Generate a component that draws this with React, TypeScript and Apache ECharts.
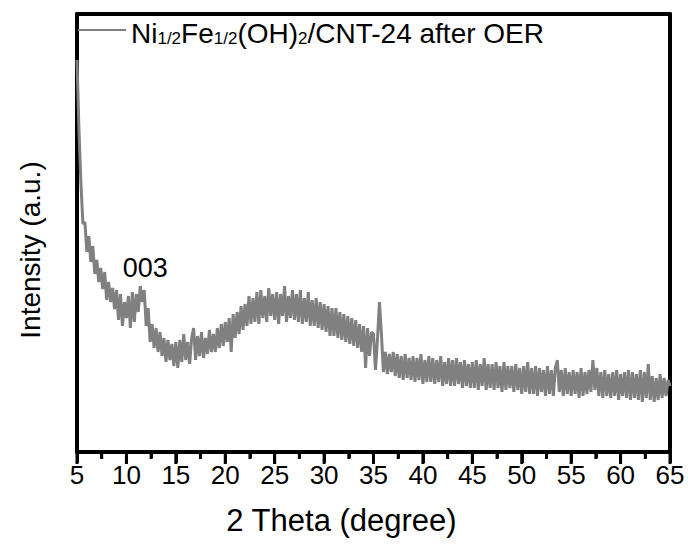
import React, { useEffect, useRef } from "react";
import * as echarts from "echarts";

// 2θ grid: start and step of the scan (degrees)
const scanStart = 5.0;
const scanStep = 0.2;

// Intensity (a.u.), 5.0° … 65.0° every 0.2°
const intensity: number[] = [
  392, 322, 268, 228, 230, 200, 216, 190, 206, 178,
  192, 170, 184, 163, 180, 152, 170, 150, 164, 143,
  162, 132, 158, 126, 150, 134, 156, 124, 160, 130,
  158, 140, 166, 150, 162, 126, 144, 110, 128, 104,
  124, 100, 120, 96, 114, 90, 112, 92, 108, 86,
  110, 84, 112, 90, 118, 92, 110, 88, 114, 124,
  92, 116, 96, 120, 94, 114, 98, 122, 100, 118,
  100, 124, 104, 128, 106, 130, 110, 134, 100, 138,
  114, 140, 118, 146, 122, 148, 126, 156, 128, 154,
  130, 160, 128, 162, 134, 156, 130, 164, 136, 158,
  132, 160, 128, 158, 136, 166, 130, 156, 134, 162,
  132, 158, 130, 162, 128, 154, 130, 160, 126, 152,
  126, 154, 124, 150, 122, 148, 120, 146, 116, 144,
  116, 144, 114, 140, 112, 138, 110, 136, 108, 134,
  106, 132, 104, 128, 100, 126, 84, 124, 96, 120,
  118, 82, 112, 150, 118, 80, 100, 78, 98, 80,
  100, 76, 98, 74, 96, 72, 98, 74, 94, 72,
  96, 70, 94, 72, 98, 68, 92, 70, 96, 70,
  94, 68, 92, 70, 96, 66, 90, 68, 94, 66,
  92, 66, 94, 68, 90, 64, 92, 66, 88, 64,
  90, 64, 92, 62, 88, 66, 94, 62, 88, 64,
  88, 62, 90, 64, 86, 60, 90, 62, 86, 64,
  86, 60, 88, 62, 84, 58, 86, 60, 90, 58,
  84, 58, 86, 56, 84, 60, 82, 56, 86, 58,
  82, 56, 84, 92, 60, 82, 56, 84, 58, 80,
  56, 82, 58, 80, 54, 84, 56, 80, 58, 82,
  60, 92, 62, 84, 56, 80, 54, 82, 56, 78,
  54, 80, 56, 82, 52, 78, 56, 80, 54, 82,
  52, 80, 54, 78, 52, 82, 50, 80, 54, 88,
  52, 76, 50, 74, 52, 78, 54, 74, 56, 72,
  66,
];

const seriesName = "Ni1/2Fe1/2(OH)2/CNT-24 after OER";
const peakLabel = "003";
const peakLabelPos: [number, number] = [11.9, 184];

// x-axis tick marks (degrees): major every 5°, minor halfway between
const majorTicks = [5, 10, 15, 20, 25, 30, 35, 40, 45, 50, 55, 60, 65];
const minorTicks = [7.5, 12.5, 17.5, 22.5, 27.5, 32.5, 37.5, 42.5, 47.5, 52.5, 57.5, 62.5];

const xMin = 5;
const xMax = 65;
const xInterval = 5;
const yMin = 0;
const yMax = 438;

const FONT = "'Liberation Sans', Arial, Helvetica, sans-serif";

export default function App() {
  const ref = useRef<HTMLDivElement>(null);
  useEffect(() => {
    document.body.style.margin = "0";
    if (!ref.current) return;
    const chart = echarts.init(ref.current, undefined, { renderer: "svg" });
    const data = intensity.map((v, i) => [
      +(scanStart + i * scanStep).toFixed(2),
      v,
    ]);
    const frameAxis = {
      show: true,
      axisLine: { show: true, onZero: false, lineStyle: { color: "#000", width: 4 } },
      axisTick: { show: false },
      axisLabel: { show: false },
      splitLine: { show: false },
    };
    chart.setOption({
      animation: false,
      backgroundColor: "#ffffff",
      textStyle: { fontFamily: FONT },
      grid: {
        left: 77,
        right: 18,
        top: 14,
        bottom: 94,
        containLabel: false,
      },
      legend: {
        left: 78,
        top: 19,
        padding: 0,
        itemWidth: 48,
        itemHeight: 2,
        icon: "rect",
        data: [seriesName],
        formatter: () =>
          "{m|Ni}{s|1/2}{m|Fe}{s|1/2}{m|(OH)}{s|2}{m|/CNT-24 after OER}",
        textStyle: {
          color: "#000",
          fontFamily: FONT,
          rich: {
            m: { fontSize: 28, color: "#000", fontFamily: FONT, lineHeight: 34, verticalAlign: "bottom" },
            s: { fontSize: 17, color: "#000", fontFamily: FONT, lineHeight: 17, verticalAlign: "bottom" },
          },
        },
      },
      xAxis: [
        {
          type: "value",
          position: "bottom",
          min: xMin,
          max: xMax,
          interval: xInterval,
          name: "2 Theta (degree)",
          nameLocation: "middle",
          nameGap: 53,
          nameTextStyle: { fontSize: 31, color: "#000", fontFamily: FONT, padding: [0, 64, 0, 0] },
          axisLine: { show: true, onZero: false, lineStyle: { color: "#000", width: 4 } },
          axisTick: { show: true, inside: false, length: 11, lineStyle: { color: "#000", width: 3 } },
          minorTick: { show: true, splitNumber: 2, length: 6, lineStyle: { color: "#000", width: 3 } },
          axisLabel: { show: true, fontSize: 26, color: "#000", margin: 10, fontFamily: FONT },
          splitLine: { show: false },
        },
        { ...frameAxis, type: "value", position: "top", min: xMin, max: xMax, interval: xInterval },
      ],
      yAxis: [
        {
          type: "value",
          position: "left",
          min: yMin,
          max: yMax,
          name: "Intensity (a.u.)",
          nameLocation: "middle",
          nameGap: 33,
          nameTextStyle: { fontSize: 28, color: "#000", fontFamily: FONT, padding: [0, 34, 0, 0] },
          axisLine: { show: true, onZero: false, lineStyle: { color: "#000", width: 4 } },
          axisTick: { show: false },
          axisLabel: { show: false },
          splitLine: { show: false },
        },
        { ...frameAxis, type: "value", position: "right", min: yMin, max: yMax },
      ],
      series: [
        {
          name: seriesName,
          type: "line",
          data,
          symbol: "none",
          showSymbol: false,
          lineStyle: { color: "#808080", width: 3 },
          itemStyle: { color: "#808080" },
          markPoint: {
            symbol: "circle",
            symbolSize: 0,
            data: [{ coord: peakLabelPos }],
            label: {
              show: true,
              position: "inside",
              formatter: peakLabel,
              fontSize: 27,
              color: "#000",
              fontFamily: FONT,
            },
          },
        },
      ],
    });

    // Tick marks placed through the series' cartesian scale
    const graphics: any[] = [];
    const addTick = (t: number, len: number) => {
      const p = chart.convertToPixel({ seriesIndex: 0 }, [t, yMin]) as any;
      if (!p || !isFinite(p[0]) || !isFinite(p[1])) return;
      graphics.push({
        type: "rect",
        z: 100,
        silent: true,
        shape: { x: p[0] - 1.5, y: p[1], width: 3, height: len },
        style: { fill: "#000" },
      });
    };
    majorTicks.forEach((t) => addTick(t, 12));
    minorTicks.forEach((t) => addTick(t, 7));
    if (graphics.length) chart.setOption({ graphic: graphics });
    return () => chart.dispose();
  }, []);
  return <div ref={ref} style={{ width: 688, height: 546 }} />;
}
